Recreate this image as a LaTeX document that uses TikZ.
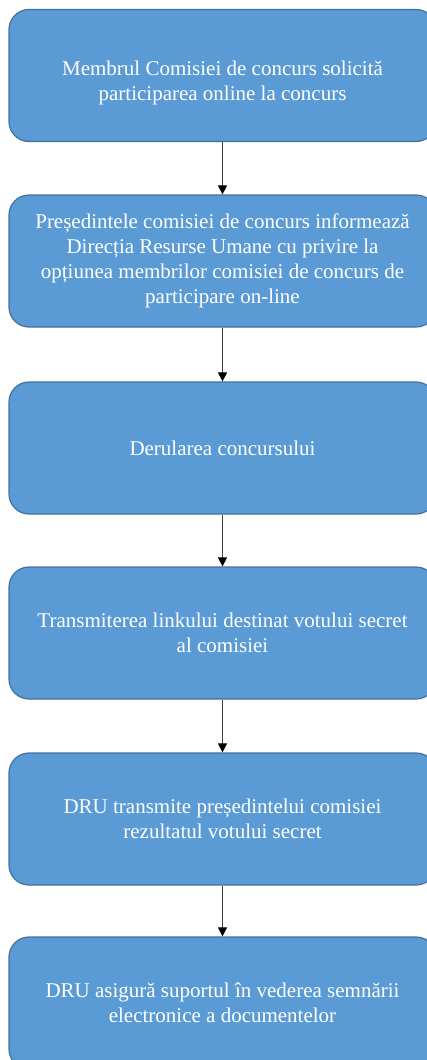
\documentclass[tikz,border=0pt]{standalone}
\usepackage{fontspec}
\setmainfont{Liberation Serif}
\usetikzlibrary{arrows.meta}
\definecolor{boxfill}{HTML}{5B9BD5}
\definecolor{boxline}{HTML}{41719C}
\definecolor{arrline}{HTML}{404040}
\tikzset{
  flowbox/.style={draw=boxline, line width=1.2pt, fill=boxfill, rounded corners=20pt,
    minimum width=427pt, minimum height=132pt, inner sep=0pt, align=center,
    text=white, font=\fontsize{21}{25}\selectfont},
  flowarrow/.style={draw=arrline, line width=1pt, -{Triangle[length=9pt,width=9pt,color=black]}}
}
\begin{document}
\begin{tikzpicture}[x=1pt,y=1pt]
\useasboundingbox (0,0) rectangle (427,-1060);
\node[flowbox, text depth=0pt] (b1) at (222.5,-75.5) {\raisebox{1pt}{\parbox{427pt}{\centering Membrul Comisiei de concurs solicită\\participarea online la concurs}}};
\node[flowbox] (b2) at (222.5,-261) {Președintele comisiei de concurs informează\\Direcția Resurse Umane cu privire la\\opțiunea membrilor comisiei de concurs de\\participare on-line};
\node[flowbox] (b3) at (222.5,-448) {Derularea concursului};
\node[flowbox] (b4) at (222.5,-633) {Transmiterea linkului destinat votului secret\\al comisiei};
\node[flowbox] (b5) at (222.5,-819) {DRU transmite președintelui comisiei\\rezultatul votului secret};
\node[flowbox] (b6) at (222.5,-1003) {DRU asigură suportul în vederea semnării\\electronice a documentelor};
\draw[flowarrow] (b1.south) -- (b2.north);
\draw[flowarrow] (b2.south) -- (b3.north);
\draw[flowarrow] (b3.south) -- (b4.north);
\draw[flowarrow] (b4.south) -- (b5.north);
\draw[flowarrow] (b5.south) -- (b6.north);
\end{tikzpicture}
\end{document}
